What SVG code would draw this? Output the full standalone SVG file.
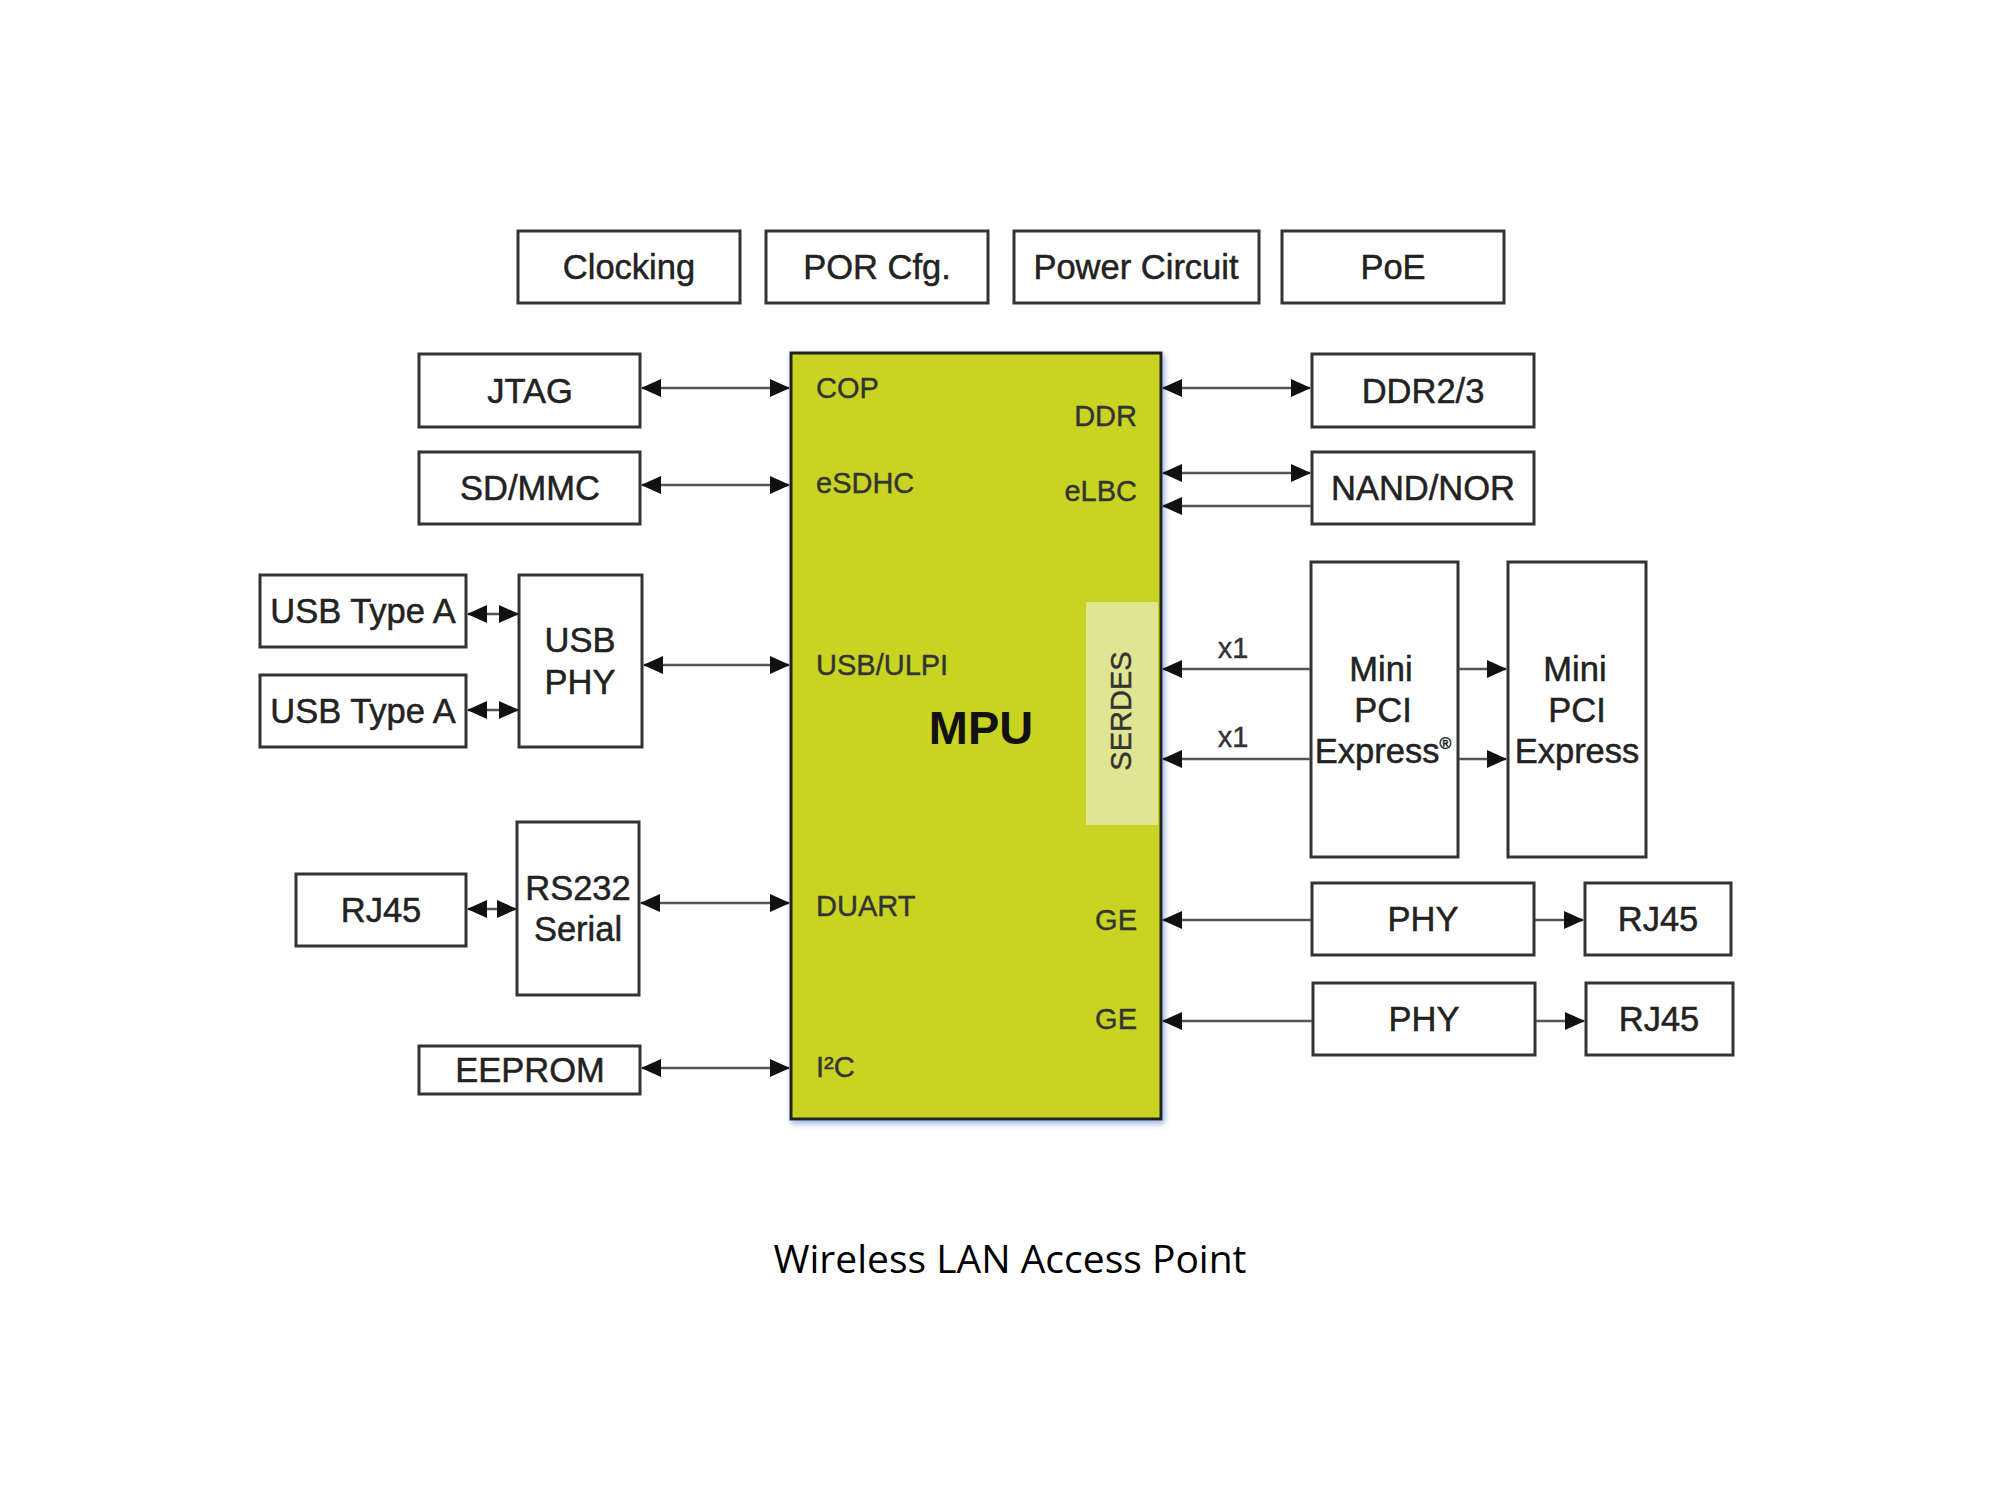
<svg xmlns="http://www.w3.org/2000/svg" width="2000" height="1500" viewBox="0 0 2000 1500">
<style>
.box{fill:#fff;stroke:#333;stroke-width:3}
.lbl{font-family:"Liberation Sans",Arial,sans-serif;font-size:34.5px;fill:#222;stroke:#222;stroke-width:0.5;text-anchor:middle}
.port{font-family:"Liberation Sans",Arial,sans-serif;font-size:29px;fill:#333;stroke:#333;stroke-width:0.4}
.end{text-anchor:end}
.ln{stroke:#555;stroke-width:2.5;fill:none}
</style>
<defs>
<marker id="ah" markerUnits="userSpaceOnUse" markerWidth="20" markerHeight="18" refX="19" refY="9" orient="auto-start-reverse" viewBox="0 0 20 18">
<path d="M0,0 L20,9 L0,18 z" fill="#111"/>
</marker>
<filter id="glow" x="-5%" y="-5%" width="110%" height="110%">
<feDropShadow dx="2" dy="3" stdDeviation="3" flood-color="#6a8ccc" flood-opacity="0.7"/>
</filter>
</defs>
<rect width="2000" height="1500" fill="#fff"/>

<g id="clocking"><rect class="box" x="518" y="231" width="222" height="72"/><text class="lbl" x="629" y="279">Clocking</text></g>
<g id="por"><rect class="box" x="766" y="231" width="222" height="72"/><text class="lbl" x="877" y="279">POR Cfg.</text></g>
<g id="power"><rect class="box" x="1014" y="231" width="245" height="72"/><text class="lbl" x="1136" y="279">Power Circuit</text></g>
<g id="poe"><rect class="box" x="1282" y="231" width="222" height="72"/><text class="lbl" x="1393" y="279">PoE</text></g>

<g id="mpu">
<rect x="791" y="353" width="370" height="766" fill="#c8d321" stroke="#222" stroke-width="3" filter="url(#glow)"/>
<rect x="1086" y="602" width="72" height="223" fill="#dfe592"/>
<text x="981" y="744" font-family="'Liberation Sans',Arial,sans-serif" font-size="47" font-weight="bold" fill="#111" text-anchor="middle">MPU</text>
<text class="port" x="1131" y="711" text-anchor="middle" transform="rotate(-90 1131 711)">SERDES</text>
<text class="port" x="816" y="398">COP</text>
<text class="port" x="816" y="493">eSDHC</text>
<text class="port" x="816" y="675">USB/ULPI</text>
<text class="port" x="816" y="916">DUART</text>
<text class="port" x="816" y="1077">I²C</text>
<text class="port end" x="1137" y="426">DDR</text>
<text class="port end" x="1137" y="501">eLBC</text>
<text class="port end" x="1137" y="930">GE</text>
<text class="port end" x="1137" y="1029">GE</text>
</g>

<g id="jtag"><rect class="box" x="419" y="354" width="221" height="73"/><text class="lbl" x="530" y="403">JTAG</text></g>
<g id="sdmmc"><rect class="box" x="419" y="452" width="221" height="72"/><text class="lbl" x="530" y="500">SD/MMC</text></g>
<g id="usba1"><rect class="box" x="260" y="575" width="206" height="72"/><text class="lbl" x="363" y="623">USB Type A</text></g>
<g id="usba2"><rect class="box" x="260" y="675" width="206" height="72"/><text class="lbl" x="363" y="723">USB Type A</text></g>
<g id="usbphy"><rect class="box" x="519" y="575" width="123" height="172"/><text class="lbl" x="580" y="652">USB</text><text class="lbl" x="580" y="694">PHY</text></g>
<g id="rj45l"><rect class="box" x="296" y="874" width="170" height="72"/><text class="lbl" x="381" y="922">RJ45</text></g>
<g id="rs232"><rect class="box" x="517" y="822" width="122" height="173"/><text class="lbl" x="578" y="900">RS232</text><text class="lbl" x="578" y="941">Serial</text></g>
<g id="eeprom"><rect class="box" x="419" y="1046" width="221" height="48"/><text class="lbl" x="530" y="1082">EEPROM</text></g>

<g id="ddr23"><rect class="box" x="1312" y="354" width="222" height="73"/><text class="lbl" x="1423" y="403">DDR2/3</text></g>
<g id="nand"><rect class="box" x="1312" y="452" width="222" height="72"/><text class="lbl" x="1423" y="500">NAND/NOR</text></g>
<g id="minipci1"><rect class="box" x="1311" y="562" width="147" height="295"/><text class="lbl" x="1381" y="681">Mini</text><text class="lbl" x="1383" y="722">PCI</text><text class="lbl" x="1383" y="763">Express<tspan font-size="16" dy="-14">®</tspan></text></g>
<g id="minipci2"><rect class="box" x="1508" y="562" width="138" height="295"/><text class="lbl" x="1575" y="681">Mini</text><text class="lbl" x="1577" y="722">PCI</text><text class="lbl" x="1577" y="763">Express</text></g>
<g id="phy1"><rect class="box" x="1312" y="883" width="222" height="72"/><text class="lbl" x="1423" y="931">PHY</text></g>
<g id="rj45r1"><rect class="box" x="1585" y="883" width="146" height="72"/><text class="lbl" x="1658" y="931">RJ45</text></g>
<g id="phy2"><rect class="box" x="1313" y="983" width="222" height="72"/><text class="lbl" x="1424" y="1031">PHY</text></g>
<g id="rj45r2"><rect class="box" x="1586" y="983" width="147" height="72"/><text class="lbl" x="1659" y="1031">RJ45</text></g>

<g id="connectors">
<line class="ln" x1="642" y1="388" x2="789" y2="388" marker-start="url(#ah)" marker-end="url(#ah)"/>
<line class="ln" x1="642" y1="485" x2="789" y2="485" marker-start="url(#ah)" marker-end="url(#ah)"/>
<line class="ln" x1="644" y1="665" x2="789" y2="665" marker-start="url(#ah)" marker-end="url(#ah)"/>
<line class="ln" x1="641" y1="903" x2="789" y2="903" marker-start="url(#ah)" marker-end="url(#ah)"/>
<line class="ln" x1="642" y1="1068" x2="789" y2="1068" marker-start="url(#ah)" marker-end="url(#ah)"/>
<line class="ln" x1="468" y1="614" x2="518" y2="614" marker-start="url(#ah)" marker-end="url(#ah)"/>
<line class="ln" x1="468" y1="710" x2="518" y2="710" marker-start="url(#ah)" marker-end="url(#ah)"/>
<line class="ln" x1="468" y1="909" x2="516" y2="909" marker-start="url(#ah)" marker-end="url(#ah)"/>
<line class="ln" x1="1163" y1="388" x2="1310" y2="388" marker-start="url(#ah)" marker-end="url(#ah)"/>
<line class="ln" x1="1163" y1="473" x2="1310" y2="473" marker-start="url(#ah)" marker-end="url(#ah)"/>
<line class="ln" x1="1311" y1="506" x2="1163" y2="506" marker-end="url(#ah)"/>
<line class="ln" x1="1310" y1="669" x2="1163" y2="669" marker-end="url(#ah)"/>
<line class="ln" x1="1310" y1="759" x2="1163" y2="759" marker-end="url(#ah)"/>
<line class="ln" x1="1311" y1="920" x2="1163" y2="920" marker-end="url(#ah)"/>
<line class="ln" x1="1312" y1="1021" x2="1163" y2="1021" marker-end="url(#ah)"/>
<line class="ln" x1="1459" y1="669" x2="1506" y2="669" marker-end="url(#ah)"/>
<line class="ln" x1="1459" y1="759" x2="1506" y2="759" marker-end="url(#ah)"/>
<line class="ln" x1="1535" y1="920" x2="1583" y2="920" marker-end="url(#ah)"/>
<line class="ln" x1="1536" y1="1021" x2="1584" y2="1021" marker-end="url(#ah)"/>
<text class="port" x="1233" y="658" text-anchor="middle" font-size="30">x1</text>
<text class="port" x="1233" y="747" text-anchor="middle" font-size="30">x1</text>
</g>

<text x="1010" y="1273" font-family="'Open Sans','Liberation Sans',sans-serif" font-size="39" fill="#000" text-anchor="middle">Wireless LAN Access Point</text>
</svg>
